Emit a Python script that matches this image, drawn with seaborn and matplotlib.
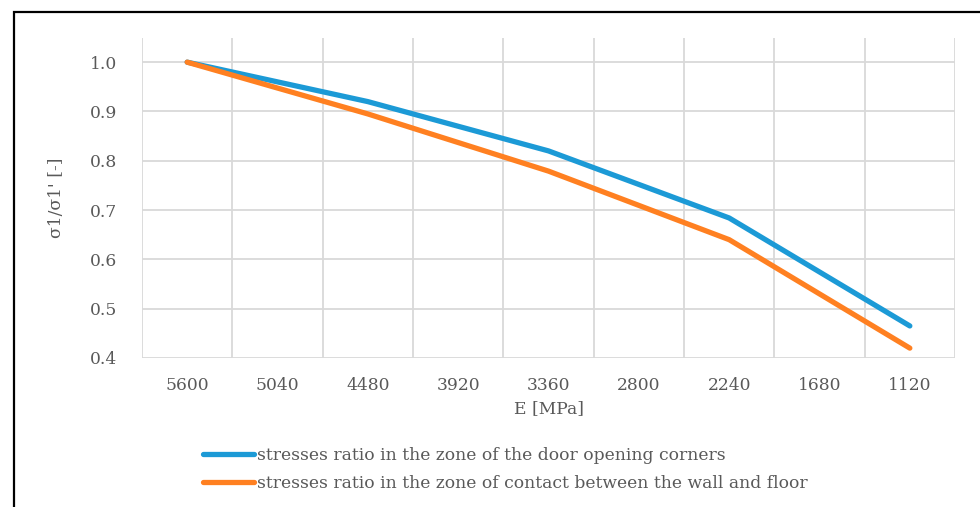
import numpy as np
import pandas as pd
import seaborn as sns
import matplotlib
matplotlib.use("Agg")
import matplotlib.pyplot as plt
from matplotlib.patches import Rectangle
from matplotlib.lines import Line2D

# ---- data ----
categories = ["5600", "5040", "4480", "3920", "3360", "2800", "2240", "1680", "1120"]
door_corners = [1.0, None, 0.92, None, 0.82, None, 0.684, None, 0.465]
wall_floor = [1.0, None, 0.895, None, 0.779, None, 0.64, None, 0.42]
series_names = ["stresses ratio in the zone of the door opening corners",
                "stresses ratio in the zone of contact between the wall and floor"]
y_ticks = [0.4, 0.5, 0.6, 0.7, 0.8, 0.9, 1.0]

rows = []
for name, vals in zip(series_names, [door_corners, wall_floor]):
    for i, (c, v) in enumerate(zip(categories, vals)):
        if v is not None:
            rows.append({"pos": i, "E": c, "ratio": v, "series": name})
df = pd.DataFrame(rows)

sns.set_theme(style="white")
plt.rcParams['font.family'] = ['DejaVu Serif', 'Liberation Serif']

fig = plt.figure(figsize=(9.8, 5.07), dpi=100)
ax = fig.add_axes([142/980, 1-358/507, (955-142)/980, (358-38)/507])

palette = {series_names[0]: "#1C9AD6", series_names[1]: "#FF8021"}
sns.lineplot(data=df, x="pos", y="ratio", hue="series", palette=palette,
             linewidth=3.8, ax=ax, legend=False, sort=False,
             solid_capstyle="round", solid_joinstyle="round", zorder=3)

grey = "#595959"
fs = 12.3
ax.set_xlim(-0.5, len(categories) - 0.5)
ax.set_ylim(0.4, 1.049)
ax.set_xticks(range(len(categories)))
ax.set_xticklabels(categories)
ax.set_xticks(np.arange(-0.5, len(categories), 1.0), minor=True)
ax.set_yticks(y_ticks)
ax.set_yticklabels([f"{t:.1f}" for t in y_ticks])
ax.grid(False)
ax.grid(True, which="minor", axis="x", color="#D9D9D9", linewidth=1.3)
ax.grid(True, which="major", axis="y", color="#D9D9D9", linewidth=1.3)
ax.set_axisbelow(True)
for s in ax.spines.values():
    s.set_visible(False)
ax.tick_params(axis="both", which="both", length=0, labelsize=fs, colors=grey)
ax.tick_params(axis="x", pad=14)
ax.tick_params(axis="y", pad=18)
ax.set_xlabel("E [MPa]", fontsize=fs, color=grey, labelpad=4)
ax.set_ylabel("σ1/σ1' [-]", fontsize=fs, color=grey, labelpad=18)

# legend
handles = [Line2D([0], [0], color=palette[n], linewidth=3.8, solid_capstyle="round") for n in series_names]
leg = fig.legend(handles, series_names, loc="upper left",
                 bbox_to_anchor=(196/980, 1-440/507), frameon=False,
                 fontsize=fs, handlelength=3.0, handletextpad=0.15,
                 labelspacing=0.65, borderaxespad=0)
for t in leg.get_texts():
    t.set_color(grey)

# outer frame (cropped)
fig.patches.append(Rectangle((14/980, -0.2), 2.0, 1.2 - 12/507, transform=fig.transFigure,
                             fill=False, edgecolor="black", linewidth=1.6))

fig.savefig("out.png", dpi=100)
